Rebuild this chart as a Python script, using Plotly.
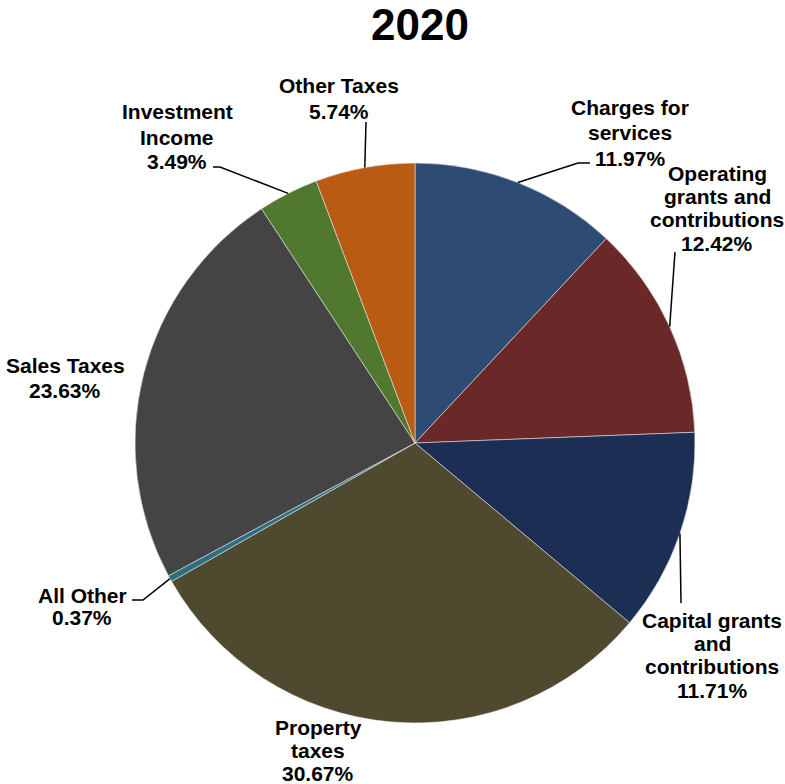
import math
import plotly.graph_objects as go

# Revenue shares for 2020 (percent), clockwise from 12 o'clock
categories = [
    "Charges for services",
    "Operating grants and contributions",
    "Capital grants and contributions",
    "Property taxes",
    "All Other",
    "Sales Taxes",
    "Investment Income",
    "Other Taxes",
]
label_lines = [
    ["Charges for", "services"],
    ["Operating", "grants and", "contributions"],
    ["Capital grants", "and", "contributions"],
    ["Property", "taxes"],
    ["All Other"],
    ["Sales Taxes"],
    ["Investment", "Income"],
    ["Other Taxes"],
]
shares = [11.97, 12.42, 11.71, 30.67, 0.37, 23.63, 3.49, 5.74]
slice_colors = [
    "#2E4B73", "#6A2828", "#1C2E54", "#4F4A2F",
    "#2B6E80", "#444444", "#50792F", "#B95B12",
]
title_text = "2020"

W, H = 785, 784
CX, CY, R = 415, 443, 280          # pie centre and radius in pixels
FONT = "Arial, Liberation Sans, sans-serif"

# text block: centre x, first-line y, line spacing, leader path after the slice edge
label_layout = [
    (630, 107, 25.5, [(578, 163), (590, 163)]),
    (717, 173, 23.4, [(675, 252)]),
    (712, 620, 23.4, [(681, 603)]),
    (318, 727, 23.0, None),
    (82, 595, 22.0, [(143, 600), (132, 600)]),
    (65, 365, 25.0, None),
    (177, 112, 25.0, [(220, 167), (213, 167)]),
    (339, 85, 26.0, [(366, 122)]),
]


def px(x):
    return x / W


def py(y):
    return 1 - y / H


fig = go.Figure(
    go.Pie(
        labels=categories,
        values=shares,
        sort=False,
        direction="clockwise",
        rotation=0,
        textinfo="none",
        hoverinfo="label+percent",
        marker=dict(colors=slice_colors,
                    line=dict(color="rgba(235,235,235,0.55)", width=1)),
        domain=dict(x=[px(CX - R), px(CX + R)], y=[py(CY + R), py(CY - R)]),
        showlegend=False,
    )
)

annotations = [
    dict(text=f"<b>{title_text}</b>", x=px(420), y=py(24), xref="paper", yref="paper",
         xanchor="center", yanchor="middle", showarrow=False,
         font=dict(family=FONT, size=44, color="black"))
]
shapes = []

total = sum(shares)
cum = 0.0
for name_lines, val, (lx, ly, step, leader) in zip(label_lines, shares, label_layout):
    mid = (cum + val / 2) / total * 2 * math.pi
    cum += val
    lines = name_lines + [f"{val:.2f}%"]
    for i, line in enumerate(lines):
        annotations.append(dict(
            text=f"<b>{line}</b>", x=px(lx), y=py(ly + i * step),
            xref="paper", yref="paper", xanchor="center", yanchor="middle",
            showarrow=False, font=dict(family=FONT, size=21, color="black"),
        ))
    if leader:
        ex = CX + R * math.sin(mid)
        ey = CY - R * math.cos(mid)
        pts = [(ex, ey)] + leader
        path = "M " + " L ".join(f"{px(x):.5f},{py(y):.5f}" for x, y in pts)
        shapes.append(dict(type="path", path=path, xref="paper", yref="paper",
                           line=dict(color="black", width=1.5)))

fig.update_layout(
    width=W, height=H,
    margin=dict(l=0, r=0, t=0, b=0),
    paper_bgcolor="white", plot_bgcolor="white",
    annotations=annotations, shapes=shapes,
)

fig.write_html("out.html")
